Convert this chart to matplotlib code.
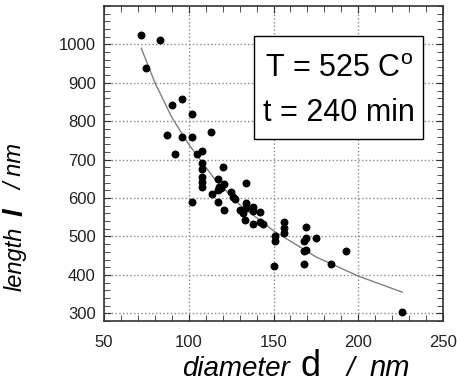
import numpy as np
import matplotlib
matplotlib.use("Agg")
import matplotlib.pyplot as plt
from matplotlib.ticker import MultipleLocator

plt.rcParams['font.family'] = ['Liberation Sans', 'DejaVu Sans']
plt.rcParams['mathtext.fontset'] = 'custom'
plt.rcParams['mathtext.rm'] = 'Liberation Sans'

diameter = [72, 83, 75, 90, 96, 102, 87, 96, 102, 113, 92, 105, 108, 108, 108,
            108, 108, 108, 102, 120, 117, 114, 117, 119, 121, 118, 117, 121,
            134, 125, 126, 127, 130, 134, 134, 132, 133, 138, 138, 138, 142,
            142, 144, 156, 156, 156, 151, 151, 150, 169, 169, 168, 175, 169,
            168, 168, 184, 193, 226]
length = [1025, 1012, 939, 843, 857, 820, 763, 759, 759, 772, 714, 714, 722,
          692, 675, 654, 643, 630, 590, 682, 649, 611, 621, 626, 637, 630, 589,
          570, 639, 617, 604, 597, 570, 587, 574, 561, 544, 578, 567, 533, 563,
          539, 533, 537, 522, 509, 500, 487, 423, 524, 496, 487, 496, 466, 462,
          429, 429, 461, 303]

# fitted curve, points
fit_d = [72, 80, 90, 100, 115, 130, 150, 175, 200, 226]
fit_l = [990, 901, 810, 740, 651, 583, 515, 447, 397, 355]

W, H = 457, 383
fig = plt.figure(figsize=(W / 100, H / 100), dpi=100)
ax = fig.add_axes([104 / W, 1 - 321 / H, 339 / W, 315 / H])

ax.plot(fit_d, fit_l, color='#808080', linewidth=1.0, zorder=2)
ax.scatter(diameter, length, s=22, color='black', zorder=3)

ax.set_xlim(50, 250)
ax.set_ylim(280, 1100)
ax.set_xticks([50, 100, 150, 200, 250])
ax.set_yticks(range(300, 1001, 100))
ax.xaxis.set_minor_locator(MultipleLocator(10))
ax.yaxis.set_minor_locator(MultipleLocator(20))
ax.tick_params(which='both', direction='in', top=True, right=True, color='#333333')
ax.tick_params(which='major', length=5, labelsize=12, labelcolor='#222222')
ax.tick_params(axis='x', which='major', pad=10)
ax.tick_params(axis='y', which='major', pad=6)
ax.tick_params(which='minor', length=4)
for s in ax.spines.values():
    s.set_color('#333333')
    s.set_linewidth(1.2)

ax.grid(True, which='major', linestyle=':', color='#888888', linewidth=1.0)

# info box
ax.text(0.692, 0.80, r'T = 525 C$^{\mathrm{o}}$', transform=ax.transAxes,
        ha='center', va='center', fontsize=22, zorder=5)
ax.text(0.692, 0.66, 't = 240 min', transform=ax.transAxes,
        ha='center', va='center', fontsize=22, zorder=5)
ax.add_patch(plt.Rectangle((0.4425, 0.578), 0.4985, 0.327, transform=ax.transAxes,
                           fill=True, facecolor='white', edgecolor='black',
                           linewidth=1.0, zorder=4))

# x label in pieces
fig.text(182 / W, 1 - 376 / H, 'diameter', fontsize=20, style='italic', ha='left', va='baseline')
fig.text(301 / W, 1 - 376 / H, 'd', fontsize=26, ha='left', va='baseline')
fig.text(347 / W, 1 - 376 / H, '/', fontsize=20, style='italic', ha='left', va='baseline')
fig.text(370 / W, 1 - 376 / H, 'nm', fontsize=21, style='italic', ha='left', va='baseline')

# y label in pieces
fig.text(27 / W, 1 - 291 / H, 'length', fontsize=17, style='italic', rotation=90,
         ha='right', va='bottom')
fig.text(29 / W, 1 - 216 / H, 'l', fontsize=20, style='italic', weight='bold',
         rotation=90, ha='right', va='bottom')
fig.text(27 / W, 1 - 190 / H, '/ nm', fontsize=17, style='italic', rotation=90,
         ha='right', va='bottom')

fig.savefig('out.png', dpi=100)
